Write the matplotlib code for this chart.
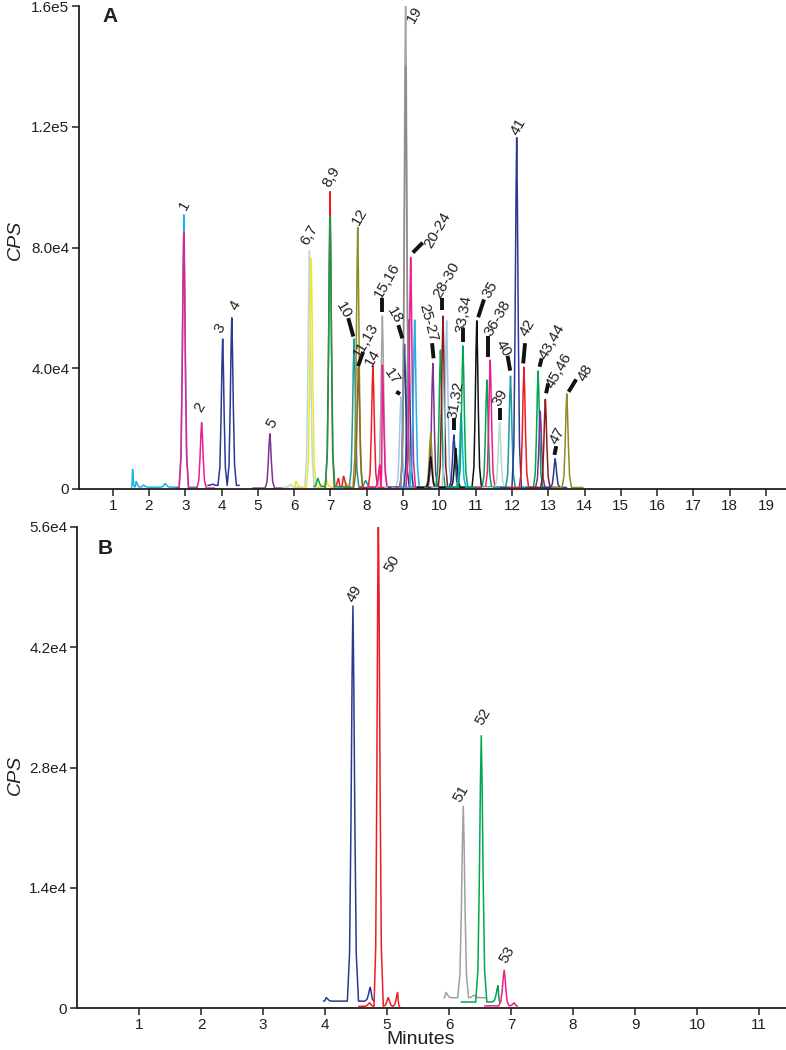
import matplotlib
matplotlib.use("Agg")
import matplotlib.pyplot as plt

plt.rcParams['font.family'] = ['Liberation Sans', 'DejaVu Sans']

# ---------------- colours ----------------
CYAN, MAG, NAVY, PURP = "#1ab2e8", "#ec1e8c", "#2b3990", "#7b3394"
LIGHT, YEL, GRN, RED = "#b7dbd4", "#f0e630", "#00a651", "#ed1c24"
TEAL, OLIVE, BROWN, GRAY = "#1a9aa2", "#8f8c22", "#8a6a2a", "#a4a4a6"
GRAY2, LBLUE, DRED, BLACK, LTEAL = "#8c8c8c", "#a2c6ea", "#8b1a1a", "#111111", "#b4dccf"

# ---------------- Panel A data (extracted ion chromatograms) ----------------
a_trace_color = [CYAN, MAG, NAVY, PURP, LIGHT, YEL, RED, GRN, TEAL, OLIVE, BROWN, RED,
                 GRAY, MAG, LBLUE, NAVY, NAVY, GRAY, GRAY2, MAG, CYAN, PURP, OLIVE, BLACK,
                 GRN, DRED, LBLUE, NAVY, BLACK, CYAN, GRN, MAG, LTEAL, TEAL, NAVY, RED,
                 GRN, PURP, DRED, NAVY, OLIVE]
a_trace_start = [1.52, 2.75, 3.63, 4.87, 5.70, 6.00, 6.85, 6.55, 7.20, 7.35, 7.40, 7.80,
                 8.00, 8.00, 8.50, 8.60, 8.70, 8.70, 8.75, 8.80, 8.90, 9.40, 9.40, 9.40,
                 9.60, 9.70, 9.80, 10.00, 10.00, 10.20, 10.20, 11.00, 11.20, 11.50, 11.70, 11.90,
                 12.30, 12.40, 12.50, 12.80, 13.10]
a_trace_end = [3.30, 3.80, 4.48, 5.66, 6.75, 7.60, 7.55, 7.50, 8.20, 8.10, 8.20, 8.60,
               8.80, 9.00, 9.40, 9.60, 9.60, 9.50, 9.40, 9.70, 9.80, 10.20, 10.10, 10.10,
               10.40, 10.50, 10.60, 10.80, 11.50, 11.00, 11.70, 11.80, 12.00, 12.30, 12.50, 12.70,
               13.10, 13.20, 13.30, 13.50, 13.95]
a_trace_base = [600, 300, 1200, 300, 600, 600, 600, 800, 700, 400, 400, 500,
                500, 500, 600, 600, 500, 500, 500, 500, 500, 500, 500, 500,
                500, 500, 500, 500, 600, 600, 600, 500, 500, 500, 500, 500,
                500, 500, 500, 500, 500]
a_trace_rt = [[1.55, 1.65, 1.85, 2.45, 2.96], [2.96, 3.45], [3.75, 4.03, 4.28], [5.33],
              [5.90, 6.42], [6.05, 6.47, 6.88, 7.45], [6.99, 7.22, 7.36], [6.65, 6.99],
              [7.65, 7.97], [7.75], [7.77], [8.17],
              [8.43], [8.36, 8.43], [8.94], [9.04], [9.15], [9.07], [9.07], [9.21], [9.32],
              [9.82], [9.76], [9.76], [10.03], [10.10], [10.20], [10.40], [10.45, 11.03],
              [10.60], [10.65, 11.31], [11.40], [11.66], [11.96], [12.13], [12.33],
              [12.72], [12.78], [12.92], [13.19], [13.51]]
a_trace_h = [[6.5e3, 2.5e3, 1.3e3, 1.8e3, 9.08e4], [8.48e4, 2.2e4], [1.6e3, 4.97e4, 5.67e4], [1.83e4],
             [1.5e3, 7.9e4], [2.6e3, 7.64e4, 3.5e3, 2.0e3], [9.85e4, 3.5e3, 4.2e3], [3.5e3, 9.02e4],
             [4.97e4, 2.8e3], [8.67e4], [4.04e4], [4.07e4],
             [5.73e4], [8.0e3, 4.1e4], [3.05e4], [4.79e4], [5.6e4], [1.66e5], [1.40e5], [7.67e4], [5.6e4],
             [4.16e4], [1.85e4], [1.07e4], [4.6e4], [5.73e4], [5.57e4], [1.79e4], [1.35e4, 5.57e4],
             [2.51e4], [4.74e4, 3.61e4], [4.27e4], [2.2e4], [3.74e4], [1.164e5], [4.04e4],
             [3.91e4], [2.58e4], [2.97e4], [1.0e4], [3.15e4]]

a_labels = ["1", "2", "3", "4", "5", "6,7", "8,9", "12", "10", "11,13", "14", "15,16",
            "17", "18", "19", "20-24", "25-27", "28-30", "31,32", "33,34", "35", "36-38",
            "39", "40", "41", "42", "43,44", "45,46", "47", "48"]
a_label_t = [2.99, 3.40, 3.96, 4.37, 5.39, 6.41, 7.04, 7.81, 7.35, 7.98, 8.17, 8.56,
             8.70, 8.78, 9.33, 9.94, 9.69, 10.21, 10.46, 10.68, 11.40, 11.62,
             11.67, 11.76, 12.17, 12.42, 13.10, 13.30, 13.24, 14.01]
a_label_v = [9.41e4, 2.72e4, 5.33e4, 6.10e4, 2.19e4, 8.41e4, 1.034e5, 9.01e4, 5.93e4, 4.94e4, 4.34e4, 6.92e4,
             3.71e4, 5.76e4, 1.57e5, 8.58e4, 5.50e4, 6.92e4, 2.95e4, 5.80e4, 6.59e4, 5.67e4,
             3.01e4, 4.67e4, 1.20e5, 5.33e4, 4.87e4, 3.94e4, 1.76e4, 3.84e4]
a_label_rot = [60, 60, 60, 60, 60, 60, 60, 60, -60, 60, 60, 60,
               -55, -60, 60, 60, -75, 60, 80, 80, 60, 60,
               60, -60, 60, 60, 60, 60, 60, 60]

a_lead_t1 = [7.49, 7.76, 8.43, 8.81, 8.87, 9.27, 9.80, 10.08, 10.40, 10.65, 11.07, 11.35,
             11.67, 11.88, 12.36, 12.82, 13.00, 13.22, 13.77]
a_lead_v1 = [5.66e4, 4.07e4, 6.32e4, 3.22e4, 5.43e4, 7.83e4, 4.83e4, 6.32e4, 2.34e4, 5.33e4, 5.69e4, 5.07e4,
             2.68e4, 4.41e4, 4.83e4, 4.33e4, 3.50e4, 1.42e4, 3.63e4]
a_lead_t2 = [7.63, 7.90, 8.43, 8.92, 8.98, 9.54, 9.84, 10.08, 10.40, 10.65, 11.23, 11.35,
             11.67, 11.95, 12.31, 12.76, 12.94, 13.17, 13.56]
a_lead_v2 = [5.05e4, 4.54e4, 5.87e4, 3.15e4, 4.99e4, 8.16e4, 4.33e4, 5.93e4, 1.95e4, 4.88e4, 6.28e4, 4.38e4,
             2.29e4, 3.92e4, 4.16e4, 4.05e4, 3.17e4, 1.13e4, 3.22e4]

a_xticks = list(range(1, 20))
a_yticks = [0, 4.0e4, 8.0e4, 1.2e5, 1.6e5]
a_yticklabels = ["0", "4.0e4", "8.0e4", "1.2e5", "1.6e5"]

# ---------------- Panel B data ----------------
b_trace_color = [NAVY, RED, "#a0a0a0", GRN, MAG]
b_trace_start = [3.98, 4.55, 5.92, 6.20, 6.58]
b_trace_end = [4.79, 5.20, 6.60, 6.82, 7.10]
b_trace_base = [800, 200, 1200, 700, 250]
b_trace_rt = [[4.02, 4.45, 4.73], [4.72, 4.86, 5.02, 5.17], [5.95, 6.23, 6.40],
              [6.52, 6.79], [6.89, 7.05]]
b_trace_h = [[1.2e3, 4.68e4, 2.4e3], [600, 5.8e4, 1.2e3, 1.8e3], [1.8e3, 2.35e4, 1.5e3],
             [3.17e4, 2.6e3], [4.4e3, 600]]

b_labels = ["49", "50", "51", "52", "53"]
b_label_t = [4.47, 5.09, 6.19, 6.55, 6.94]
b_label_v = [4.82e4, 5.17e4, 2.50e4, 3.39e4, 6.2e3]

b_xticks = list(range(1, 12))
b_yticks = [0, 1.4e4, 2.8e4, 4.2e4, 5.6e4]
b_yticklabels = ["0", "1.4e4", "2.8e4", "4.2e4", "5.6e4"]

# peak outline: fractions of the half base width and of the peak height (drawing style)
SHAPE_X = [1.0, 0.6, 0.35, 0.15, 0.0]
SHAPE_Y = [0.0, 0.12, 0.45, 0.82, 1.0]


def trace_xy(start, end, base, rts, hs, hw):
    xs, ys = [start], [base]
    n = len(rts)
    for i in range(n):
        rt, h = rts[i], hs[i]
        lw_, rw_ = hw, hw
        if i > 0:
            lw_ = min(lw_, 0.5 * (rt - rts[i - 1]))
        if i < n - 1:
            rw_ = min(rw_, 0.5 * (rts[i + 1] - rt))
        lw_ = min(lw_, rt - start)
        rw_ = min(rw_, end - rt)
        for fx, fy in zip(SHAPE_X, SHAPE_Y):
            xs.append(rt - fx * lw_)
            ys.append(base + fy * (h - base))
        for fx, fy in zip(SHAPE_X[-2::-1], SHAPE_Y[-2::-1]):
            xs.append(rt + fx * rw_)
            ys.append(base + fy * (h - base))
    xs.append(end)
    ys.append(base)
    return xs, ys


def style_axis(ax):
    for s in ("top", "right"):
        ax.spines[s].set_visible(False)
    for s in ("left", "bottom"):
        ax.spines[s].set_linewidth(1.3)
        ax.spines[s].set_color("#231f20")
    ax.tick_params(axis="both", direction="out", length=5, width=1.1,
                   labelsize=11, colors="#231f20", pad=2)


fig = plt.figure(figsize=(7.86, 10.5), dpi=100)
axA = fig.add_axes([79 / 786, (1050 - 489) / 1050, 707 / 786, 483 / 1050])
axB = fig.add_axes([77 / 786, 42 / 1050, 709 / 786, 481 / 1050])

# ---- Panel A ----
for c, s, e, b, rts, hs in zip(a_trace_color, a_trace_start, a_trace_end, a_trace_base,
                               a_trace_rt, a_trace_h):
    xs, ys = trace_xy(s, e, b, rts, hs, 0.13)
    axA.plot(xs, ys, color=c, lw=1.1)

for t1, v1, t2, v2 in zip(a_lead_t1, a_lead_v1, a_lead_t2, a_lead_v2):
    axA.plot([t1, t2], [v1, v2], color="#111111", lw=2.8, solid_capstyle="butt")

for txt, t, v, r in zip(a_labels, a_label_t, a_label_v, a_label_rot):
    axA.text(t, v, txt, rotation=r, rotation_mode="anchor", ha="center", va="center",
             fontsize=11, color="#231f20")

axA.set_xlim(0.072, 19.55)
axA.set_ylim(0, 1.6e5)
axA.set_xticks(a_xticks)
axA.set_yticks(a_yticks)
axA.set_yticklabels(a_yticklabels)
style_axis(axA)
axA.set_ylabel("CPS", fontsize=14, style="italic", color="#231f20")
axA.yaxis.set_label_coords(-55 / 707, (489 - 240) / 483)
axA.text(31 / 707, 1 - 10 / 483, "A", transform=axA.transAxes, fontsize=15,
         fontweight="bold", ha="center", va="center", color="#231f20")

# ---- Panel B ----
for c, s, e, b, rts, hs in zip(b_trace_color, b_trace_start, b_trace_end, b_trace_base,
                               b_trace_rt, b_trace_h):
    xs, ys = trace_xy(s, e, b, rts, hs, 0.09)
    axB.plot(xs, ys, color=c, lw=1.1)

for txt, t, v in zip(b_labels, b_label_t, b_label_v):
    axB.text(t, v, txt, rotation=60, rotation_mode="anchor", ha="center", va="center",
             fontsize=11, color="#231f20")

axB.set_xlim(0, 11.435)
axB.set_ylim(0, 5.6e4)
axB.set_xticks(b_xticks)
axB.set_yticks(b_yticks)
axB.set_yticklabels(b_yticklabels)
style_axis(axB)
axB.set_ylabel("CPS", fontsize=14, style="italic", color="#231f20")
axB.yaxis.set_label_coords(-53 / 709, (1008 - 775) / 481)
axB.set_xlabel("Minutes", fontsize=14, color="#231f20")
axB.xaxis.set_label_coords((421 - 77) / 709, -(1031 - 1008) / 481)
axB.text(28 / 709, 1 - 22 / 481, "B", transform=axB.transAxes, fontsize=15,
         fontweight="bold", ha="center", va="center", color="#231f20")

fig.savefig("out.png", dpi=100)
